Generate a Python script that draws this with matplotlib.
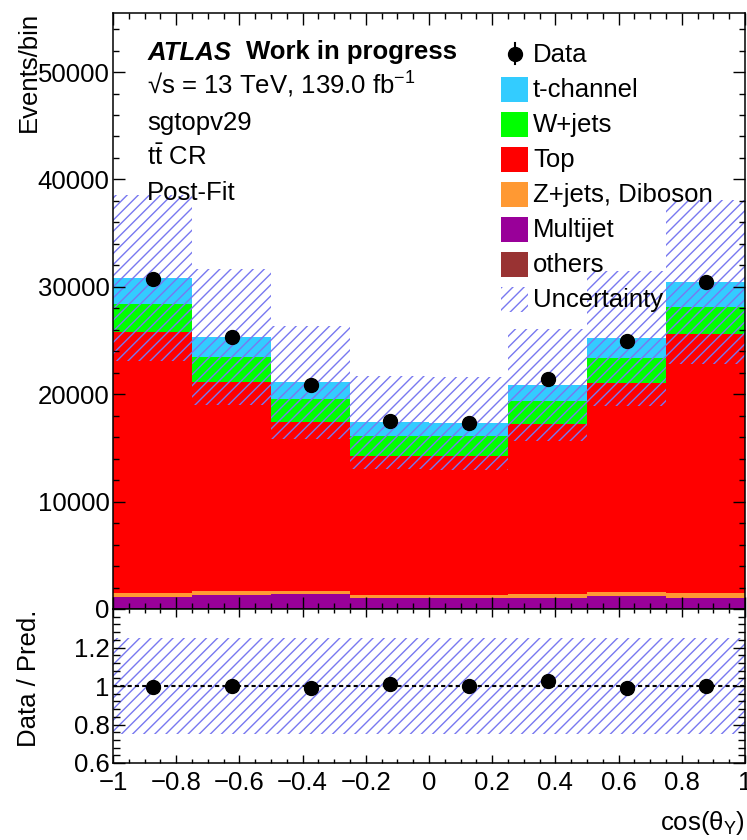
import numpy as np
import matplotlib
matplotlib.use("Agg")
import matplotlib.pyplot as plt
from matplotlib.patches import Rectangle
from matplotlib.lines import Line2D
from matplotlib.ticker import MultipleLocator, FuncFormatter

# binning and yields
edges = [-1.0, -0.75, -0.5, -0.25, 0.0, 0.25, 0.5, 0.75, 1.0]
others = [30, 30, 30, 30, 30, 30, 30, 30]
multijet = [1120, 1240, 1330, 960, 960, 990, 1180, 1020]
zjets_diboson = [370, 370, 280, 280, 310, 380, 370, 410]
top = [24300, 19520, 15800, 13010, 12980, 15830, 19490, 24140]
wjets = [2580, 2330, 2110, 1860, 1860, 2140, 2270, 2490]
tchannel = [2420, 1860, 1560, 1240, 1150, 1490, 1860, 2390]
data = [30730, 25350, 20860, 17540, 17290, 21400, 24950, 30480]
unc_rel = [0.25, 0.25, 0.25, 0.25, 0.25, 0.25, 0.25, 0.25]

W, H = 747, 840
FS = 18.5
HATCH = "#7878f0"

plt.rcParams["font.family"] = ["Liberation Sans", "DejaVu Sans"]
plt.rcParams["mathtext.fontset"] = "custom"
plt.rcParams["mathtext.rm"] = "Liberation Sans"
plt.rcParams["mathtext.it"] = "Liberation Sans:italic"
plt.rcParams["mathtext.bf"] = "Liberation Sans:bold"
plt.rcParams["hatch.linewidth"] = 1.0
plt.rcParams["hatch.color"] = HATCH


def fx(x):
    return x / W


def fy(y):
    return 1 - y / H


def xfmt(v, p):
    s = f"{round(v, 6):g}"
    if s == "-0":
        s = "0"
    return s.replace("-", "\u2212")


fig = plt.figure(figsize=(W / 100, H / 100), dpi=100)
ax = fig.add_axes([fx(113), fy(609), (745 - 113) / W, (609 - 13) / H])
rax = fig.add_axes([fx(113), fy(763), (745 - 113) / W, (763 - 609) / H])

edges_a = np.asarray(edges)
centers = 0.5 * (edges_a[:-1] + edges_a[1:])

stack = [
    ("others", others, "#993333"),
    ("Multijet", multijet, "#990099"),
    ("Z+jets, Diboson", zjets_diboson, "#ff9933"),
    ("Top", top, "#ff0000"),
    ("W+jets", wjets, "#00ff00"),
    ("t-channel", tchannel, "#33ccff"),
]
base = np.zeros(len(centers))
for name, vals, col in stack:
    vals = np.asarray(vals, float)
    ax.stairs(base + vals, edges, baseline=base, fill=True, facecolor=col, lw=0)
    base = base + vals
total = base
unc = np.asarray(unc_rel)
d = np.asarray(data, float)

ax.stairs(total * (1 + unc), edges, baseline=total * (1 - unc), fill=True,
          facecolor="none", edgecolor=HATCH, hatch="///", lw=0)
ax.errorbar(centers, d, yerr=np.sqrt(d), fmt="o", color="k", ms=10,
            elinewidth=1.5, capsize=0, zorder=5)

ax.set_xlim(-1, 1)
ax.set_ylim(0, 55500)
ax.yaxis.set_major_locator(MultipleLocator(10000))
ax.yaxis.set_minor_locator(MultipleLocator(2000))
ax.xaxis.set_major_locator(MultipleLocator(0.2))
ax.xaxis.set_minor_locator(MultipleLocator(0.05))
ax.yaxis.set_major_formatter(FuncFormatter(lambda v, p: f"{v:.0f}"))
ax.tick_params(which="both", direction="in", top=True, right=True,
               labelbottom=False, labelsize=FS, pad=2.5)
ax.tick_params(which="major", length=8.6, width=1)
ax.tick_params(which="minor", length=4.3, width=1)

# ratio panel
rax.stairs(1 + unc, edges, baseline=1 - unc, fill=True, facecolor="none",
           edgecolor=HATCH, hatch="///", lw=0)
rax.axhline(1, color="k", ls=(0, (2, 1.5)), lw=1.5)
rax.errorbar(centers, d / total, yerr=np.sqrt(d) / total, fmt="o", color="k",
             ms=10, elinewidth=1.5, capsize=0, zorder=5)
rax.set_xlim(-1, 1)
rax.set_ylim(0.6, 1.4)
rax.yaxis.set_major_locator(MultipleLocator(0.2))
rax.yaxis.set_minor_locator(MultipleLocator(0.04))
rax.xaxis.set_major_locator(MultipleLocator(0.2))
rax.xaxis.set_minor_locator(MultipleLocator(0.05))
rax.yaxis.set_major_formatter(
    FuncFormatter(lambda v, p: "" if v > 1.3 else f"{round(v, 6):g}"))
rax.xaxis.set_major_formatter(FuncFormatter(xfmt))
rax.tick_params(which="both", direction="in", top=True, right=True,
                labelsize=FS)
rax.tick_params(axis="y", which="major", length=8.6, width=1, pad=2.5)
rax.tick_params(axis="y", which="minor", length=5, width=1)
rax.tick_params(axis="x", which="major", length=5.5, width=1, pad=6)
rax.tick_params(axis="x", which="minor", length=3, width=1)

for a in (ax, rax):
    for s in a.spines.values():
        s.set_linewidth(1.1)

# axis titles
fig.text(fx(36), fy(12), "Events/bin", rotation=90, rotation_mode="anchor",
         ha="right", va="baseline", fontsize=FS)
fig.text(fx(36), fy(678), "Data / Pred.", rotation=90, rotation_mode="anchor",
         ha="center", va="baseline", fontsize=FS)
fig.text(fx(745), fy(830), r"cos(θ$_{\mathrm{Y}}$)", ha="right",
         va="baseline", fontsize=FS)

# ATLAS label block
fig.text(fx(148), fy(59.5), "ATLAS", fontsize=FS, fontweight="bold",
         fontstyle="italic", va="baseline")
fig.text(fx(246), fy(59.5), "Work in progress", fontsize=FS,
         fontweight="bold", va="baseline")
info = ["\u221as = 13 TeV, 139.0 fb$^{-1}$", "sgtopv29",
        r"$\mathrm{t\bar{t}}$ CR", "Post-Fit"]
for i, line in enumerate(info):
    fig.text(fx(147), fy(94.5 + 35.3 * i), line, fontsize=FS, va="baseline")

# legend drawn by hand to match the ROOT layout
fig.add_artist(Line2D([fx(515), fx(515)], [fy(43), fy(64)], color="k",
                      lw=1.5, transform=fig.transFigure))
fig.add_artist(Line2D([fx(515)], [fy(53.5)], marker="o", ms=10, color="k",
                      transform=fig.transFigure))
fig.text(fx(533), fy(61.7), "Data", fontsize=FS, va="baseline")
leg = [(n, c) for n, v, c in stack[::-1]] + [("Uncertainty", None)]
for i, (name, col) in enumerate(leg):
    ytop = 76.7 + 35 * i
    if col is None:
        r = Rectangle((fx(501), fy(ytop + 25)), 27 / W, 25 / H,
                      facecolor="none", edgecolor=HATCH, hatch="///", lw=0,
                      transform=fig.transFigure)
    else:
        r = Rectangle((fx(501), fy(ytop + 25)), 27 / W, 25 / H,
                      facecolor=col, lw=0, transform=fig.transFigure)
    fig.add_artist(r)
    fig.text(fx(533), fy(ytop + 20), name, fontsize=FS, va="baseline")

fig.savefig("out.png", dpi=100)
